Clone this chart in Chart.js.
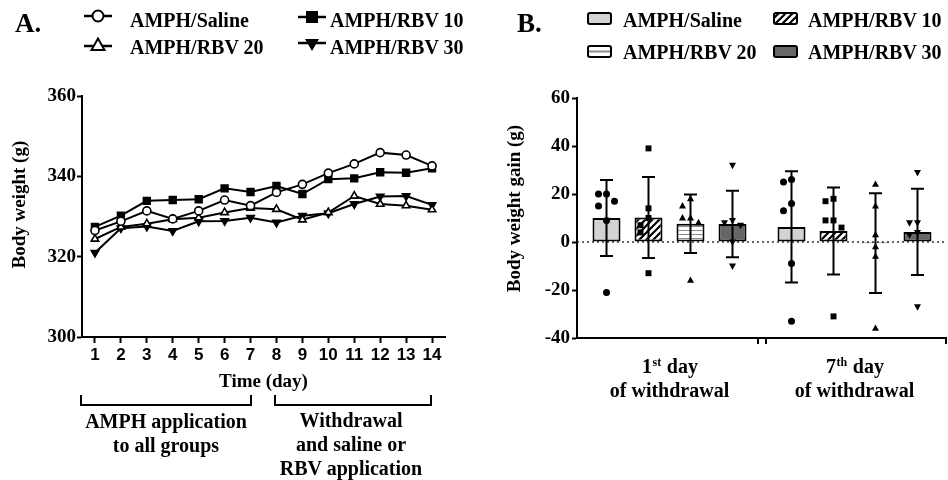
<!DOCTYPE html>
<html>
<head>
<meta charset="utf-8">
<script src="https://cdn.jsdelivr.net/npm/chart.js@4.4.1/dist/chart.umd.min.js"></script>
<style>
  body { margin: 0; background: #fff; }
  #wrap { position: relative; width: 948px; height: 480px; overflow: hidden;
          font-family: "Liberation Serif", "Times New Roman", serif; font-weight: bold; color: #000; }
  .t { position: absolute; white-space: nowrap; font-size: 20px; line-height: 20px; }
  .big { font-size: 27px; line-height: 27px; }
  .note { position: absolute; font-size: 20px; line-height: 24px; text-align: center; white-space: nowrap; }
  .brk { position: absolute; height: 9px; border: 2px solid #000; border-top: none; }
  svg { position: absolute; overflow: visible; }
  canvas { position: absolute; top: 0; }
</style>
</head>
<body>
<div id="wrap">
  <canvas id="chartA" width="470" height="480" style="left:0"></canvas>
  <canvas id="chartB" width="468" height="480" style="left:480px"></canvas>

  <!-- panel A legend -->
  <div class="t big" style="left:15px;top:10px">A.</div>
  <svg style="left:84px;top:8px" width="28" height="16">
    <line x1="0" y1="8" x2="28" y2="8" stroke="#000" stroke-width="2.5"/>
    <circle cx="14" cy="8" r="5.5" fill="#fff" stroke="#000" stroke-width="2"/>
  </svg>
  <div class="t" style="left:130px;top:10px">AMPH/Saline</div>
  <svg style="left:298px;top:9px" width="28" height="16">
    <line x1="0" y1="8" x2="28" y2="8" stroke="#000" stroke-width="2.5"/>
    <rect x="8" y="2" width="12" height="12" fill="#000"/>
  </svg>
  <div class="t" style="left:330px;top:10px">AMPH/RBV 10</div>
  <svg style="left:84px;top:37px" width="28" height="16">
    <line x1="0" y1="9" x2="28" y2="9" stroke="#000" stroke-width="2.5"/>
    <polygon points="14,1.5 20.5,13 7.5,13" fill="#fff" stroke="#000" stroke-width="2"/>
  </svg>
  <div class="t" style="left:130px;top:36.5px">AMPH/RBV 20</div>
  <svg style="left:298px;top:37px" width="28" height="16">
    <line x1="0" y1="6" x2="28" y2="6" stroke="#000" stroke-width="2.5"/>
    <polygon points="14,14 21,2 7,2" fill="#000"/>
  </svg>
  <div class="t" style="left:330px;top:36.5px">AMPH/RBV 30</div>

  <!-- panel A day brackets -->
  <div class="brk" style="left:80px;top:395px;width:168px"></div>
  <div class="brk" style="left:274px;top:395px;width:154px"></div>
  <div class="note" style="left:66px;top:409px;width:200px">AMPH application<br>to all groups</div>
  <div class="note" style="left:251px;top:408px;width:200px">Withdrawal<br>and saline or<br>RBV application</div>

  <!-- panel B legend -->
  <div class="t big" style="left:517px;top:10px">B.</div>
  <svg style="left:587px;top:12px" width="25" height="13">
    <rect x="1" y="1" width="23" height="11" rx="2" fill="#d3d3d3" stroke="#000" stroke-width="2"/>
  </svg>
  <div class="t" style="left:623px;top:10px">AMPH/Saline</div>
  <svg style="left:773px;top:12px" width="25" height="13">
    <defs>
      <pattern id="hatchL" width="7" height="7" patternUnits="userSpaceOnUse">
        <rect width="7" height="7" fill="#fff"/>
        <path d="M-1,8 L8,-1 M-1,1 L1,-1 M6,8 L8,6" stroke="#000" stroke-width="2.2"/>
      </pattern>
    </defs>
    <rect x="1" y="1" width="23" height="11" rx="2" fill="url(#hatchL)" stroke="#000" stroke-width="2"/>
  </svg>
  <div class="t" style="left:808px;top:10px">AMPH/RBV 10</div>
  <svg style="left:587px;top:45px" width="25" height="13">
    <rect x="1" y="1" width="23" height="11" rx="2" fill="#fff" stroke="#000" stroke-width="2"/>
    <line x1="2" y1="6.5" x2="23" y2="6.5" stroke="#8a8a8a" stroke-width="2"/>
  </svg>
  <div class="t" style="left:623px;top:41.5px">AMPH/RBV 20</div>
  <svg style="left:773px;top:45px" width="25" height="13">
    <rect x="1" y="1" width="23" height="11" rx="2" fill="#666" stroke="#000" stroke-width="2"/>
  </svg>
  <div class="t" style="left:808px;top:41.5px">AMPH/RBV 30</div>
</div>

<script>
// ---- panel A: body weight (g) per day ----
const days = ["1", "2", "3", "4", "5", "6", "7", "8", "9", "10", "11", "12", "13", "14"];
const salineWeight = [326.5, 328.8, 331.4, 329.4, 331.4, 334.1, 332.7, 336.0, 338.0, 340.8, 343.1, 345.9, 345.3, 342.6];
const rbv10Weight = [327.4, 330.2, 333.9, 334.1, 334.3, 337.0, 336.1, 337.6, 335.6, 339.3, 339.5, 341.0, 340.9, 342.0];
const rbv20Weight = [324.4, 327.4, 328.2, 329.3, 329.7, 331.0, 332.1, 331.8, 329.2, 331.0, 335.1, 333.1, 332.7, 331.7];
const rbv30Weight = [321.0, 327.1, 327.5, 326.4, 328.8, 328.9, 329.7, 328.5, 330.2, 330.8, 333.1, 335.0, 335.1, 332.9];
const weightTicks = [300, 320, 340, 360];

// ---- panel B: body weight gain (g) ----
const gainGroups = [["1st day", "of withdrawal"], ["7th day", "of withdrawal"]];
const salineGain = [10.0, 6.3];
const rbv10Gain = [10.2, 4.6];
const rbv20Gain = [7.6, -0.5];
const rbv30Gain = [7.5, 4.2];
const salineSD = [15.8, 23.2];
const rbv10SD = [16.9, 18.1];
const rbv20SD = [12.2, 20.8];
const rbv30SD = [13.9, 18.0];
const salinePts = [[20, 20, 17, 15, 9, -21], [26, 25, 16, 13, -9, -33]];
const rbv10Pts = [[39, 14, 10, 7, 4, -13], [18, 17, 9, 9, 6, -31]];
const rbv20Pts = [[18, 15, 10, 10, 8, -16], [24, 15, 3, -2, -6, -36]];
const rbv30Pts = [[32, 9, 8, 7, 0, -10], [29, 8, 8, 4, 3, -27]];
const gainTicks = [-40, -20, 0, 20, 40, 60];

const SERIF = "'Liberation Serif', 'Times New Roman', serif";
const SANS = "'Liberation Sans', Arial, sans-serif";
Chart.defaults.color = "#000";

const axisFont = { family: SERIF, weight: "bold", size: 19 };
// leading spaces nudge the rotated titles a little upward, as in the original
const padTitle = (txt, n) => "\u00a0".repeat(n) + txt;

function lineSet(label, data, style, radius, fill, rotation) {
  return {
    label, data,
    borderColor: "#000", borderWidth: 2, tension: 0,
    pointStyle: style, pointRadius: radius, pointRotation: rotation || 0,
    pointBackgroundColor: fill, pointBorderColor: "#000", pointBorderWidth: 1.6
  };
}

new Chart(document.getElementById("chartA"), {
  type: "line",
  data: {
    labels: days,
    datasets: [
      lineSet("AMPH/Saline", salineWeight, "circle", 4, "#fff"),
      lineSet("AMPH/RBV 10", rbv10Weight, "rect", 4.8, "#000"),
      lineSet("AMPH/RBV 20", rbv20Weight, "triangle", 4.3, "#fff"),
      lineSet("AMPH/RBV 30", rbv30Weight, "triangle", 4.3, "#000", 180)
    ]
  },
  options: {
    responsive: false, animation: false, devicePixelRatio: 1,
    layout: { padding: { left: 0, top: 96, right: 25, bottom: 87 } },
    plugins: { legend: { display: false }, tooltip: { enabled: false } },
    scales: {
      x: {
        offset: true,
        grid: { drawOnChartArea: false, offset: false, color: "#000", tickLength: 6, tickWidth: 2 },
        border: { color: "#000", width: 2 },
        ticks: { font: { family: SANS, weight: "bold", size: 17 }, padding: 2, maxRotation: 0, autoSkip: false },
        title: { display: true, text: "Time (day)", font: axisFont, padding: { top: 0, bottom: 0 } },
        afterFit(s) { s.height = 56; }
      },
      y: {
        min: 300, max: 360,
        afterBuildTicks(s) { s.ticks = weightTicks.map(v => ({ value: v })); },
        grid: { drawOnChartArea: false, color: "#000", tickLength: 5, tickWidth: 2 },
        border: { color: "#000", width: 2 },
        ticks: { font: axisFont, padding: 1 },
        title: { display: true, text: padTitle("Body weight (g)", 5), font: axisFont, padding: { top: 9, bottom: 0 } },
        afterFit(s) { s.width = 82; }
      }
    }
  }
});

// ---- patterns for panel B ----
function hatchPattern(ctx) {
  const c = document.createElement("canvas");
  c.width = c.height = 7;
  const g = c.getContext("2d");
  g.fillStyle = "#fff"; g.fillRect(0, 0, 7, 7);
  g.strokeStyle = "#000"; g.lineWidth = 2.2;
  g.beginPath();
  g.moveTo(-1, 8); g.lineTo(8, -1);
  g.moveTo(-1, 1); g.lineTo(1, -1);
  g.moveTo(6, 8); g.lineTo(8, 6);
  g.stroke();
  return ctx.createPattern(c, "repeat");
}
function stripePattern(ctx) {
  const c = document.createElement("canvas");
  c.width = 4; c.height = 4;
  const g = c.getContext("2d");
  g.fillStyle = "#fff"; g.fillRect(0, 0, 4, 4);
  g.fillStyle = "#8a8a8a"; g.fillRect(0, 2, 4, 1);
  return ctx.createPattern(c, "repeat");
}

function marker(ctx, style, x, y, r) {
  ctx.beginPath();
  if (style === "circle") ctx.arc(x, y, r, 0, Math.PI * 2);
  else if (style === "rect") ctx.rect(x - r * 0.85, y - r * 0.85, r * 1.7, r * 1.7);
  else if (style === "up") { ctx.moveTo(x, y - r * 1.15); ctx.lineTo(x + r, y + r * 0.7); ctx.lineTo(x - r, y + r * 0.7); ctx.closePath(); }
  else { ctx.moveTo(x, y + r * 1.15); ctx.lineTo(x + r, y - r * 0.7); ctx.lineTo(x - r, y - r * 0.7); ctx.closePath(); }
  ctx.fill();
}

// spread points that sit close together, like a scatter dot plot
function jitter(vals) {
  const steps = [0, -1, 1, -2, 2];
  return vals.map((v, i) => {
    let c = 0;
    for (let j = 0; j < i; j++) if (Math.abs(vals[j] - v) < 3.5) c++;
    return steps[Math.min(c, 4)];
  });
}

function drawSupLabel(ctx, text, cx, base) {
  const m = text.match(/^(\d+)(st|nd|rd|th)(.*)$/);
  const big = "bold 20px " + SERIF, small = "bold 12px " + SERIF;
  ctx.textBaseline = "alphabetic"; ctx.textAlign = "left";
  if (!m) {
    ctx.font = big;
    ctx.fillText(text, cx - ctx.measureText(text).width / 2, base);
    return;
  }
  ctx.font = big; const w1 = ctx.measureText(m[1]).width, w3 = ctx.measureText(m[3]).width;
  ctx.font = small; const w2 = ctx.measureText(m[2]).width;
  let x = cx - (w1 + w2 + w3) / 2;
  ctx.font = big; ctx.fillText(m[1], x, base); x += w1;
  ctx.font = small; ctx.fillText(m[2], x + 0.5, base - 7); x += w2 + 1;
  ctx.font = big; ctx.fillText(m[3], x, base);
}

const pointSets = [salinePts, rbv10Pts, rbv20Pts, rbv30Pts];
const sdSets = [salineSD, rbv10SD, rbv20SD, rbv30SD];
const pointStyles = ["circle", "rect", "up", "down"];

const gainExtras = {
  id: "gainExtras",
  beforeDatasetsDraw(chart) {
    const { ctx, chartArea: a, scales: { y } } = chart;
    const y0 = y.getPixelForValue(0);
    ctx.save();
    ctx.strokeStyle = "#333"; ctx.lineWidth = 1.5; ctx.setLineDash([2, 3]);
    ctx.beginPath(); ctx.moveTo(a.left, y0); ctx.lineTo(a.right, y0); ctx.stroke();
    ctx.restore();
  },
  afterDatasetsDraw(chart) {
    const { ctx, scales: { y } } = chart;
    ctx.save();
    chart.data.datasets.forEach((ds, di) => {
      const meta = chart.getDatasetMeta(di);
      meta.data.forEach((bar, gi) => {
        const m = ds.data[gi], sd = sdSets[di][gi];
        const yt = y.getPixelForValue(m + sd), yb = y.getPixelForValue(m - sd);
        ctx.strokeStyle = "#000"; ctx.lineWidth = 2;
        ctx.beginPath();
        ctx.moveTo(bar.x, yt); ctx.lineTo(bar.x, yb);
        ctx.moveTo(bar.x - 6.5, yt); ctx.lineTo(bar.x + 6.5, yt);
        ctx.moveTo(bar.x - 6.5, yb); ctx.lineTo(bar.x + 6.5, yb);
        ctx.stroke();
        const vals = pointSets[di][gi], off = jitter(vals);
        ctx.fillStyle = "#000";
        vals.forEach((v, k) => marker(ctx, pointStyles[di], bar.x + off[k] * 8, y.getPixelForValue(v), 3.5));
      });
    });
    ctx.restore();
  },
  afterDraw(chart) {
    const { ctx, chartArea: a, scales: { x } } = chart;
    const mid = (x.getPixelForValue(0) + x.getPixelForValue(1)) / 2;
    ctx.save();
    ctx.strokeStyle = "#000"; ctx.lineWidth = 2;
    ctx.beginPath();
    ctx.moveTo(a.left, a.bottom); ctx.lineTo(a.right, a.bottom);
    ctx.moveTo(mid - 4, a.bottom); ctx.lineTo(mid - 4, a.bottom + 6);
    ctx.moveTo(mid + 4, a.bottom); ctx.lineTo(mid + 4, a.bottom + 6);
    ctx.moveTo(a.right - 1, a.bottom); ctx.lineTo(a.right - 1, a.bottom + 6);
    ctx.stroke();
    ctx.fillStyle = "#000";
    gainGroups.forEach((lines, i) => {
      const cx = x.getPixelForValue(i);
      lines.forEach((ln, k) => drawSupLabel(ctx, ln, cx, a.bottom + 35 + k * 24));
    });
    ctx.restore();
  }
};

const ctxB = document.getElementById("chartB").getContext("2d");
function barSet(label, data, fill) {
  return {
    label, data, backgroundColor: fill, borderColor: "#000", borderWidth: 2,
    borderSkipped: false, categoryPercentage: 0.908, barPercentage: 0.667
  };
}

new Chart(ctxB, {
  type: "bar",
  data: {
    labels: gainGroups.map(g => g.join(" ")),
    datasets: [
      barSet("AMPH/Saline", salineGain, "#d3d3d3"),
      barSet("AMPH/RBV 10", rbv10Gain, hatchPattern(ctxB)),
      barSet("AMPH/RBV 20", rbv20Gain, stripePattern(ctxB)),
      barSet("AMPH/RBV 30", rbv30Gain, "#666")
    ]
  },
  options: {
    responsive: false, animation: false, devicePixelRatio: 1,
    layout: { padding: { left: 0, top: 98, right: 1, bottom: 142 } },
    plugins: { legend: { display: false }, tooltip: { enabled: false } },
    scales: {
      x: {
        grid: { display: false }, border: { display: false }, ticks: { display: false },
        afterFit(s) { s.height = 0; }
      },
      y: {
        min: -40, max: 60,
        afterBuildTicks(s) { s.ticks = gainTicks.map(v => ({ value: v })); },
        grid: { drawOnChartArea: false, color: "#000", tickLength: 5, tickWidth: 2 },
        border: { color: "#000", width: 2 },
        ticks: { font: axisFont, padding: 2 },
        title: { display: true, text: padTitle("Body weight gain (g)", 4), font: axisFont, padding: { top: 24, bottom: 0 } },
        afterFit(s) { s.width = 97; }
      }
    }
  },
  plugins: [gainExtras]
});
</script>
</body>
</html>
